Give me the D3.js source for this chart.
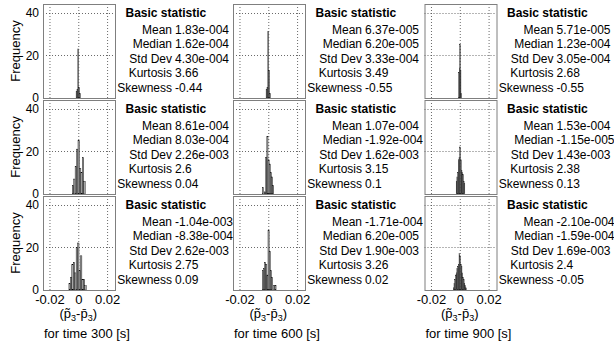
<!DOCTYPE html>
<html>
<head>
<meta charset="utf-8">
<script src="https://cdn.jsdelivr.net/npm/d3@7"></script>
<style>
  html, body { margin: 0; padding: 0; background: #fff; }
  svg { display: block; font-family: Arial, 'Liberation Sans', sans-serif; }
</style>
</head>
<body>
<div id="chart"></div>
<script>
const times = [300, 600, 900]
const freqTicks = [0, 20, 40]
const diffTicks = [-0.02, 0, 0.02]
const statNames = ['Mean', 'Median', 'Std Dev', 'Kurtosis', 'Skewness']

// one entry per row (top to bottom) for each time
const binStart300 = [-0.0015, -0.0042, -0.0065]
const binWidth300 = [0.0006, 0.001, 0.001]
const counts300 = [
  [3, 4, 23, 5, 2],
  [4, 7, 13, 21, 25, 12, 10, 17, 6],
  [3, 6, 12, 13, 8, 20, 22, 9, 16, 5, 5, 2]
]
const stats300 = [
  ['1.83e-004', '1.62e-004', '4.30e-004', '3.66', '-0.44'],
  ['8.61e-004', '8.03e-004', '2.26e-003', '2.6', '0.04'],
  ['-1.04e-003', '-8.38e-004', '2.62e-003', '2.75', '0.09']
]

const binStart600 = [-0.0015, -0.0042, -0.0042]
const binWidth600 = [0.0006, 0.0008, 0.0008]
const counts600 = [
  [4, 5, 31, 13, 2],
  [3, 0, 1, 17, 27, 16, 14, 10, 8, 4],
  [9, 10, 13, 12, 7, 28, 18, 9, 6, 0, 2, 2]
]
const stats600 = [
  ['6.37e-005', '6.20e-005', '3.33e-004', '3.49', '-0.55'],
  ['1.07e-004', '-1.92e-004', '1.62e-003', '3.15', '0.1'],
  ['-1.71e-004', '6.20e-005', '1.90e-003', '3.26', '0.02']
]

const binStart900 = [-0.0008, -0.0025, -0.0045]
const binWidth900 = [0.0004, 0.0005, 0.0005]
const counts900 = [
  [12, 14, 25, 13, 2],
  [6, 8, 10, 16, 17, 22, 16, 11, 10, 9, 6, 5],
  [1, 3, 5, 7, 8, 10, 11, 12, 17, 16, 12, 11, 8, 6, 5, 3, 2, 1]
]
const stats900 = [
  ['5.71e-005', '1.23e-004', '3.05e-004', '2.68', '-0.55'],
  ['1.53e-004', '-1.15e-005', '1.43e-003', '2.38', '0.13'],
  ['-2.10e-004', '-1.59e-004', '1.69e-003', '2.4', '-0.05']
]

const columns = [
  { start: binStart300, width: binWidth300, counts: counts300, stats: stats300 },
  { start: binStart600, width: binWidth600, counts: counts600, stats: stats600 },
  { start: binStart900, width: binWidth900, counts: counts900, stats: stats900 }
]

const width = 614
const height = 344
const boxW = 72
const boxH = 94
const colLeft = [43, 233, 424.5]
const rowTop = [4, 100, 196]

const svg = d3.select('#chart')
  .append('svg')
  .attr('width', width)
  .attr('height', height)

const x = d3.scaleLinear().domain([-0.0245, 0.0255]).range([0, boxW])
const y = d3.scaleLinear().domain([0, 44]).range([boxH, 0])

columns.forEach((col, ci) => {
  col.counts.forEach((counts, ri) => {
    const g = svg.append('g')
      .attr('transform', `translate(${colLeft[ci]}, ${rowTop[ri]})`)

    // dotted grid
    g.selectAll('.gx')
      .data(diffTicks)
      .enter()
      .append('line')
      .attr('x1', d => x(d) + 0.5)
      .attr('x2', d => x(d) + 0.5)
      .attr('y1', 0)
      .attr('y2', boxH)
      .attr('stroke', '#444')
      .attr('stroke-width', 0.8)
      .attr('stroke-dasharray', '1,2')
    g.selectAll('.gy')
      .data(freqTicks.filter(t => t > 0))
      .enter()
      .append('line')
      .attr('x1', 0)
      .attr('x2', boxW)
      .attr('y1', d => Math.round(y(d)) + 0.5)
      .attr('y2', d => Math.round(y(d)) + 0.5)
      .attr('stroke', '#444')
      .attr('stroke-width', 0.8)
      .attr('stroke-dasharray', '1,2')

    // histogram bars
    const w = col.width[ri]
    const s = col.start[ri]
    const bins = counts.map((n, i) => ({ x0: s + i * w, x1: s + (i + 1) * w, n }))
    g.selectAll('.bar')
      .data(bins.filter(b => b.n > 0))
      .enter()
      .append('rect')
      .attr('x', d => x(d.x0))
      .attr('y', d => y(d.n))
      .attr('width', d => x(d.x1) - x(d.x0))
      .attr('height', d => y(0) - y(d.n))
      .attr('fill', '#a6a6a6')
      .attr('stroke', '#000')
      .attr('stroke-width', 0.4)

    // frame
    g.append('rect')
      .attr('x', 0.5)
      .attr('y', 0.5)
      .attr('width', boxW)
      .attr('height', boxH)
      .attr('fill', 'none')
      .attr('stroke', '#7f7f7f')

    if (ci === 0) {
      const ay = g.append('g')
        .call(d3.axisLeft(y).tickValues(freqTicks).tickSize(0).tickPadding(4))
      ay.select('.domain').remove()
      ay.selectAll('text').attr('font-size', 12).attr('fill', '#000').attr('font-family', null)

      g.append('text')
        .attr('transform', `translate(${19.5 - colLeft[ci]}, ${boxH / 2}) rotate(-90)`)
        .attr('text-anchor', 'middle')
        .attr('font-size', 13)
        .text('Frequency')
    }

    // statistics block
    const tx = boxW + 0.5
    g.append('text')
      .attr('x', tx + 10)
      .attr('y', 12.8)
      .attr('font-size', 12)
      .attr('font-weight', 'bold')
      .text('Basic statistic')
    statNames.forEach((name, k) => {
      const ty = 30 + k * 14.4
      g.append('text')
        .attr('x', tx + 56.5)
        .attr('y', ty)
        .attr('text-anchor', 'end')
        .attr('font-size', 12)
        .text(name)
      g.append('text')
        .attr('x', tx + 59.5)
        .attr('y', ty)
        .attr('font-size', 12)
        .attr('textLength', null)
        .text(col.stats[ri][k])
    })

    if (ri === 2) {
      const ax = g.append('g')
        .attr('transform', `translate(0, ${boxH})`)
        .call(d3.axisBottom(x).tickValues(diffTicks).tickSize(0).tickPadding(4.5).tickFormat(d => String(d)))
      ax.select('.domain').remove()
      ax.selectAll('text').attr('font-size', 13).attr('fill', '#000').attr('font-family', null)

      const lbl = g.append('text')
        .attr('x', x(0))
        .attr('y', boxH + 27.5)
        .attr('text-anchor', 'middle')
        .attr('font-size', 13)
      lbl.append('tspan').text('(p\u0303')
      lbl.append('tspan').attr('font-size', 9).attr('dy', 3).text('3')
      lbl.append('tspan').attr('dy', -3).text('-p\u0304')
      lbl.append('tspan').attr('font-size', 9).attr('dy', 3).text('3')
      lbl.append('tspan').attr('dy', -3).text(')')

      g.append('text')
        .attr('x', boxW / 2 + 8)
        .attr('y', boxH + 47.5)
        .attr('text-anchor', 'middle')
        .attr('font-size', 13)
        .text(`for time ${times[ci]} [s]`)
    }
  })
})
</script>
</body>
</html>
